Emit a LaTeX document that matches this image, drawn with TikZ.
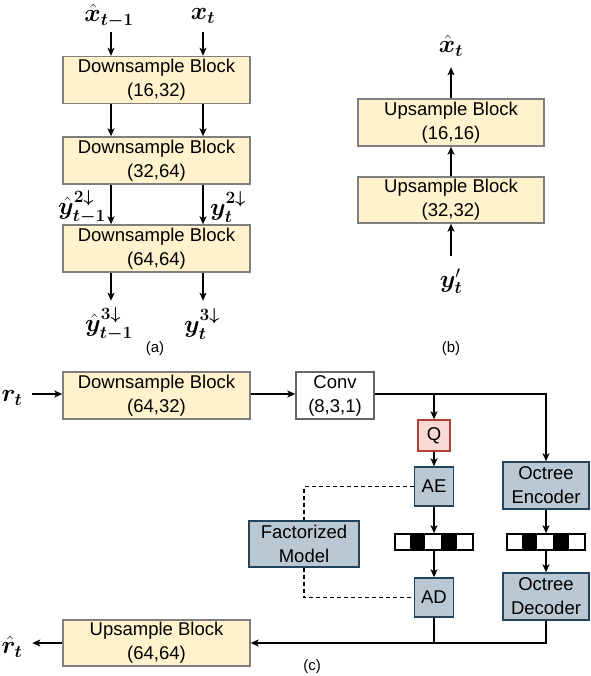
\documentclass[tikz,border=0pt]{standalone}
\usepackage{fontspec}
\setmainfont{Liberation Sans}
\usepackage{amsmath}
\usepackage{bm}
\usetikzlibrary{arrows.meta,calc}
\definecolor{cream}{HTML}{FFF2CC}
\definecolor{ygray}{HTML}{7F7F7F}
\definecolor{bfill}{HTML}{BAC8D3}
\definecolor{bdraw}{HTML}{23445D}
\definecolor{qfill}{HTML}{FAD9D5}
\definecolor{qdraw}{HTML}{AE4132}
\definecolor{cdraw}{HTML}{666666}
\begin{document}
\begin{tikzpicture}[x=1pt,y=-1pt,
 txt/.style={font=\fontsize{18.5}{24}\selectfont},
 ybox/.style={draw=ygray, fill=cream, line width=1.4pt, minimum width=187pt, minimum height=47pt, inner sep=0pt, align=center, txt},
 bbox/.style={draw=bdraw, fill=bfill, line width=1.4pt, inner sep=0pt, align=center, txt},
 strip/.style={draw, line width=1.5pt, minimum width=78pt, minimum height=16pt, inner sep=0pt},
 arr/.style={-{Stealth[length=8pt,width=7pt,inset=2pt]}, line width=1.3pt},
 ln/.style={line width=1.3pt},
 dsh/.style={line width=1.1pt, dash pattern=on 4pt off 3pt},
 ml/.style={font=\fontsize{23}{27}\selectfont, inner sep=1pt},
 capt/.style={font=\fontsize{15}{18}\selectfont}]
\useasboundingbox (0,0) rectangle (590,676);
% (a)
\coordinate (c1) at (111,0);
\coordinate (c2) at (203,0);
\node[ybox] (a1) at (156.5,80) {Downsample Block\\(16,32)};
\node[ybox] (a2) at (156.5,160.5) {Downsample Block\\(32,64)};
\node[ybox] (a3) at (156.5,248.5) {Downsample Block\\(64,64)};
\node[ml] (xa) at (109,16) {$\hat{\bm{x}}_{\bm{t-1}}$};
\node[ml] (xb) at (203,16) {$\bm{x}_{\bm{t}}$};
\node[ml] (ya2) at (82,207) {$\hat{\bm{y}}^{\bm{2\downarrow}}_{\bm{t-1}}$};
\node[ml] (yb2) at (228,207) {$\bm{y}^{\bm{2\downarrow}}_{\bm{t}}$};
\node[ml] (ya3) at (109,324) {$\hat{\bm{y}}^{\bm{3\downarrow}}_{\bm{t-1}}$};
\node[ml] (yb3) at (202,324) {$\bm{y}^{\bm{3\downarrow}}_{\bm{t}}$};
\node[capt] (capa) at (155,349) {(a)};
\draw[arr] ($(a1.north -| c1)+(0,-24)$) coordinate (s1a) -- (a1.north -| c1);
\draw[arr] ($(a1.north -| c2)+(0,-24)$) coordinate (s2a) -- (a1.north -| c2);
\draw[arr] (a1.south -| c1) -- (a2.north -| c1);
\draw[arr] (a1.south -| c2) -- (a2.north -| c2);
\draw[arr] (a2.south -| c1) -- (a3.north -| c1);
\draw[arr] (a2.south -| c2) -- (a3.north -| c2);
\draw[arr] (a3.south -| c1) -- ($(a3.south -| c1)+(0,28)$) coordinate (e1);
\draw[arr] (a3.south -| c2) -- ($(a3.south -| c2)+(0,28)$) coordinate (e2);
% (b)
\node[ybox, minimum width=186pt] (b1) at (451,122.5) {Upsample Block\\(16,16)};
\node[ybox, minimum width=186pt, minimum height=46pt] (b2) at (451,200) {Upsample Block\\(32,32)};
\node[ml] (xh) at (451,46) {$\hat{\bm{x}}_{\bm{t}}$};
\node[ml] (yp) at (451,281) {$\bm{y}^{\prime}_{\bm{t}}$};
\node[capt] (capb) at (451,349) {(b)};
\draw[arr] (b1.north) -- ($(b1.north)+(0,-31)$) coordinate (e3);
\draw[arr] (b2.north) -- (b1.south);
\draw[arr] ($(b2.south)+(0,32)$) coordinate (e4) -- (b2.south);
% (c)
\node[ybox] (cd) at (156.5,395.5) {Downsample Block\\(64,32)};
\node[draw=cdraw, fill=white, line width=1.4pt, inner sep=0pt, align=center, txt, minimum width=78pt, minimum height=47pt] (conv) at (335,395.5) {Conv\\(8,3,1)};
\node[draw=qdraw, fill=qfill, line width=1.4pt, inner sep=0pt, txt, minimum width=32pt, minimum height=31pt] (Q) at (434,435.5) {Q};
\node[bbox, minimum width=39pt, minimum height=39pt] (AE) at (434,486.5) {AE};
\node[bbox, minimum width=39pt, minimum height=39pt] (AD) at (434,597.5) {AD};
\node[bbox, minimum width=86pt, minimum height=47pt] (oe) at (546,485.5) {Octree\\Encoder};
\node[bbox, minimum width=86pt, minimum height=47pt] (od) at (546,596.5) {Octree\\Decoder};
\node[bbox, minimum width=110pt, minimum height=46pt] (fm) at (304,544) {Factorized\\Model};
\node[ybox, minimum height=46pt] (uc) at (156.5,643) {Upsample Block\\(64,64)};
\node[strip] (s1) at (434,542) {};
\node[strip] (s2) at (546,542) {};
\foreach \s in {s1,s2}{
  \foreach \i in {1,3}{
    \fill (\s.north west) ++(\i*15.6,0) rectangle ++(15.6,16);
  }
}
\node[ml] (rt) at (12,398) {$\bm{r}_{\bm{t}}$};
\node[ml] (rh) at (12,647) {$\hat{\bm{r}}_{\bm{t}}$};
\node[capt] (capc) at (312,667) {(c)};
\draw[arr] ($(cd.west)+(-30,-1.5)$) coordinate (e5) -- ($(cd.west)+(0,-1.5)$);
\draw[arr] ($(cd.east)+(0,-1.5)$) -- ($(conv.west)+(0,-1.5)$);
\draw[arr] ($(conv.east)+(0,-1.5)$) -| (oe.north);
\draw[arr] (Q.north |- 0,394) -- (Q.north);
\draw[arr] (Q.south) -- (AE.north);
\draw[arr] (AE.south) -- (s1.north);
\draw[arr] (s1.south) -- (AD.north);
\draw[arr] (oe.south) -- (s2.north);
\draw[arr] (s2.south) -- (od.north);
\draw[arr] (od.south) |- (uc.east);
\draw[ln] (AD.south) -- (AD.south |- uc.east);
\draw[arr] (uc.west) -- ($(uc.west)+(-30,0)$) coordinate (e6);
\draw[dsh] (AE.west) -| (fm.north);
\draw[dsh] (fm.south) |- (AD.west);
\end{tikzpicture}
\end{document}
